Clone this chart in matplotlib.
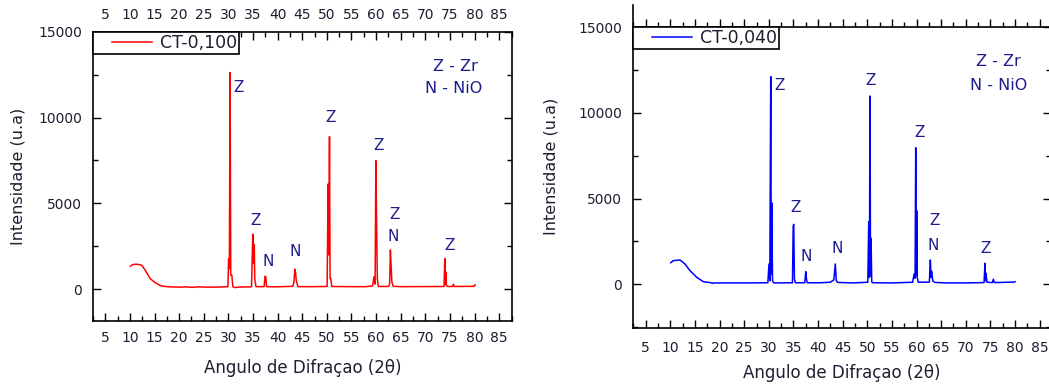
import matplotlib
matplotlib.use("Agg")
import matplotlib.pyplot as plt
from matplotlib.ticker import MultipleLocator
from matplotlib.legend_handler import HandlerLine2D

plt.rcParams['font.family'] = ['DejaVu Sans']

# ---------------- data ----------------
red_x = [10.1, 10.6, 11.4, 12.4, 13.1, 14.1, 15.1, 16.1, 16.8, 18.0, 20.5, 21.0, 23.0, 23.5,
         26.0, 28.5, 29.9, 30.05, 30.2, 30.34, 30.48, 30.7, 30.9, 31.2, 32.5, 34.7, 34.95,
         35.05, 35.25, 35.35, 35.6, 37.25, 37.45, 37.6, 37.75, 39.5, 43.1, 43.3, 43.5, 43.65,
         43.8, 44.1, 47.0, 50.05, 50.25, 50.4, 50.53, 50.65, 50.8, 51.0, 55.0, 58.0, 59.3,
         59.55, 59.8, 59.95, 60.1, 60.25, 60.45, 62.5, 62.75, 62.9, 63.05, 63.2, 63.5, 65.0,
         73.8, 73.95, 74.03, 74.15, 74.25, 74.5, 75.5, 75.7, 75.9, 79.9, 80.1]
red_y = [1340, 1440, 1460, 1400, 1110, 620, 390, 230, 170, 140, 120, 140, 110, 140,
         120, 130, 150, 1790, 1200, 12620, 820, 820, 150, 100, 130, 140, 3210,
         1500, 2610, 600, 150, 150, 760, 700, 150, 140, 170, 400, 1170, 920,
         500, 150, 150, 160, 6130, 2000, 8890, 620, 620, 160, 150, 150, 200,
         720, 300, 7490, 3870, 600, 160, 160, 300, 2280, 1360, 420, 170, 150,
         160, 1790, 300, 1010, 250, 160, 160, 290, 160, 170, 260]

blue_x = [10.08, 10.6, 11.97, 12.98, 14.0, 15.36, 16.7, 18.1, 18.5, 19.0, 25.0, 29.8, 30.04,
          30.2, 30.39, 30.5, 30.59, 30.75, 31.0, 34.8, 34.95, 35.06, 35.2, 35.4, 37.3, 37.5,
          37.65, 37.8, 40.5, 42.5, 43.2, 43.5, 43.7, 44.0, 47.0, 50.1, 50.29, 50.42, 50.55,
          50.65, 50.76, 50.9, 51.1, 55.0, 59.2, 59.5, 59.7, 59.83, 59.95, 60.03, 60.15, 60.35,
          62.6, 62.8, 62.95, 63.05, 63.3, 63.7, 66.0, 70.0, 73.7, 73.9, 74.0, 74.1, 74.3,
          75.4, 75.6, 75.8, 79.9, 80.0]
blue_y = [1260, 1380, 1420, 1185, 794, 409, 152, 100, 60, 80, 80, 90, 1185,
          200, 12120, 600, 4760, 200, 80, 90, 3400, 3500, 300, 90, 90, 740,
          300, 90, 90, 120, 260, 1185, 200, 110, 80, 120, 3650, 400, 10990,
          500, 2690, 150, 90, 80, 120, 600, 350, 7975, 500, 4300, 400, 120,
          130, 1420, 400, 760, 200, 110, 80, 80, 100, 1225, 200, 640, 120,
          100, 300, 100, 130, 150]

# peak labels
red_lab_x = [32.0, 35.6, 38.0, 43.55, 50.67, 60.5, 63.7, 63.5, 74.9]
red_lab_y = [11770, 4030, 1590, 2180, 10020, 8400, 4380, 3090, 2570]
red_lab_t = ['Z', 'Z', 'N', 'N', 'Z', 'Z', 'Z', 'N', 'Z']

blue_lab_x = [32.1, 35.5, 37.55, 43.8, 50.7, 60.7, 63.6, 63.3, 74.1]
blue_lab_y = [11630, 4490, 1650, 2100, 11920, 8850, 3700, 2240, 2100]
blue_lab_t = ['Z', 'Z', 'N', 'N', 'Z', 'Z', 'Z', 'N', 'Z']

key_lines = ['Z - Zr', 'N - NiO']
series_names = ['CT-0,100', 'CT-0,040']

TXT = '#1e1e30'
LAB = '#1c1c8c'

fig = plt.figure(figsize=(10.49, 3.87), dpi=100)

W, H = 1049.0, 387.0
def axes_px(l, r, t, b):
    return [l / W, (H - b) / H, (r - l) / W, (b - t) / H]

axL = fig.add_axes(axes_px(93, 512, 31.7, 321))
axR = fig.add_axes(axes_px(633, 1051, 5, 328))

def style(ax):
    ax.xaxis.set_major_locator(MultipleLocator(5))
    ax.xaxis.set_minor_locator(MultipleLocator(2.5))
    ax.yaxis.set_major_locator(MultipleLocator(5000))
    ax.yaxis.set_minor_locator(MultipleLocator(2500))
    ax.tick_params(which='both', direction='in', colors='black', labelcolor=TXT,
                   labelsize=10, width=1.0)
    ax.tick_params(which='major', length=6)
    ax.tick_params(which='minor', length=3.5)
    for s in ax.spines.values():
        s.set_linewidth(1.2)

LEG_FS = 12.5
def make_legend(ax, anchor):
    leg = ax.legend(loc='upper left', bbox_to_anchor=anchor, borderaxespad=0,
                    fancybox=False, framealpha=1, edgecolor='black', fontsize=LEG_FS,
                    numpoints=2, handlelength=4.2, handletextpad=-0.45,
                    borderpad=0.12,
                    handler_map={plt.Line2D: HandlerLine2D(numpoints=2, marker_pad=0.95)})
    leg.get_frame().set_linewidth(1.2)
    for t in leg.get_texts():
        t.set_color(TXT)
    return leg

# ---------- left panel ----------
axL.plot(red_x, red_y, color='#ff0000', lw=1.1, label=series_names[0])
axL.set_xlim(2.5, 87.6)
axL.set_ylim(-1850, 15000)
style(axL)
axL.tick_params(which='both', top=True, right=True, labeltop=True)
axL.tick_params(axis='x', which='major', pad=7)
axL.tick_params(axis='y', which='major', pad=8)
for x, y, t in zip(red_lab_x, red_lab_y, red_lab_t):
    axL.text(x, y, t, color=LAB, fontsize=11, ha='center', va='center')
axL.text(76.0, 13000, key_lines[0], color=LAB, fontsize=11.5, ha='center', va='center')
axL.text(75.7, 11670, key_lines[1], color=LAB, fontsize=11.5, ha='center', va='center')
axL.set_xlabel('Angulo de Difraçao (2θ)', fontsize=12, color=TXT, labelpad=10)
axL.set_ylabel('Intensidade (u.a)', fontsize=11.5, color=TXT, labelpad=9)
make_legend(axL, (0, 1))

# ---------- right panel ----------
axR.plot(blue_x, blue_y, color='#0000ff', lw=1.1, label=series_names[1])
axR.set_xlim(2.42, 87.3)
axR.set_ylim(-2551, 16303)
style(axR)
axR.tick_params(which='both', top=False, right=True, labeltop=False)
axR.tick_params(axis='x', which='major', pad=9)
axR.tick_params(axis='y', which='major', pad=8)
axR.spines['top'].set_visible(False)
loc15 = (15000 + 2551) / (16303 + 2551)
sec = axR.secondary_xaxis(loc15)
sec.xaxis.set_major_locator(MultipleLocator(5))
sec.xaxis.set_minor_locator(MultipleLocator(2.5))
sec.tick_params(which='both', direction='out', labeltop=False, labelbottom=False, width=1.0)
sec.tick_params(which='major', length=6)
sec.tick_params(which='minor', length=3.5)
sec.spines['top'].set_linewidth(1.2)
for x, y, t in zip(blue_lab_x, blue_lab_y, blue_lab_t):
    axR.text(x, y, t, color=LAB, fontsize=11, ha='center', va='center')
axR.text(76.6, 12990, key_lines[0], color=LAB, fontsize=11.5, ha='center', va='center')
axR.text(76.6, 11630, key_lines[1], color=LAB, fontsize=11.5, ha='center', va='center')
axR.set_xlabel('Angulo de Difraçao (2θ)', fontsize=12, color=TXT, labelpad=7)
axR.set_ylabel('Intensidade (u.a)', fontsize=11.5, color=TXT, labelpad=14)
make_legend(axR, (0, loc15))

fig.savefig('out.png', dpi=100)
